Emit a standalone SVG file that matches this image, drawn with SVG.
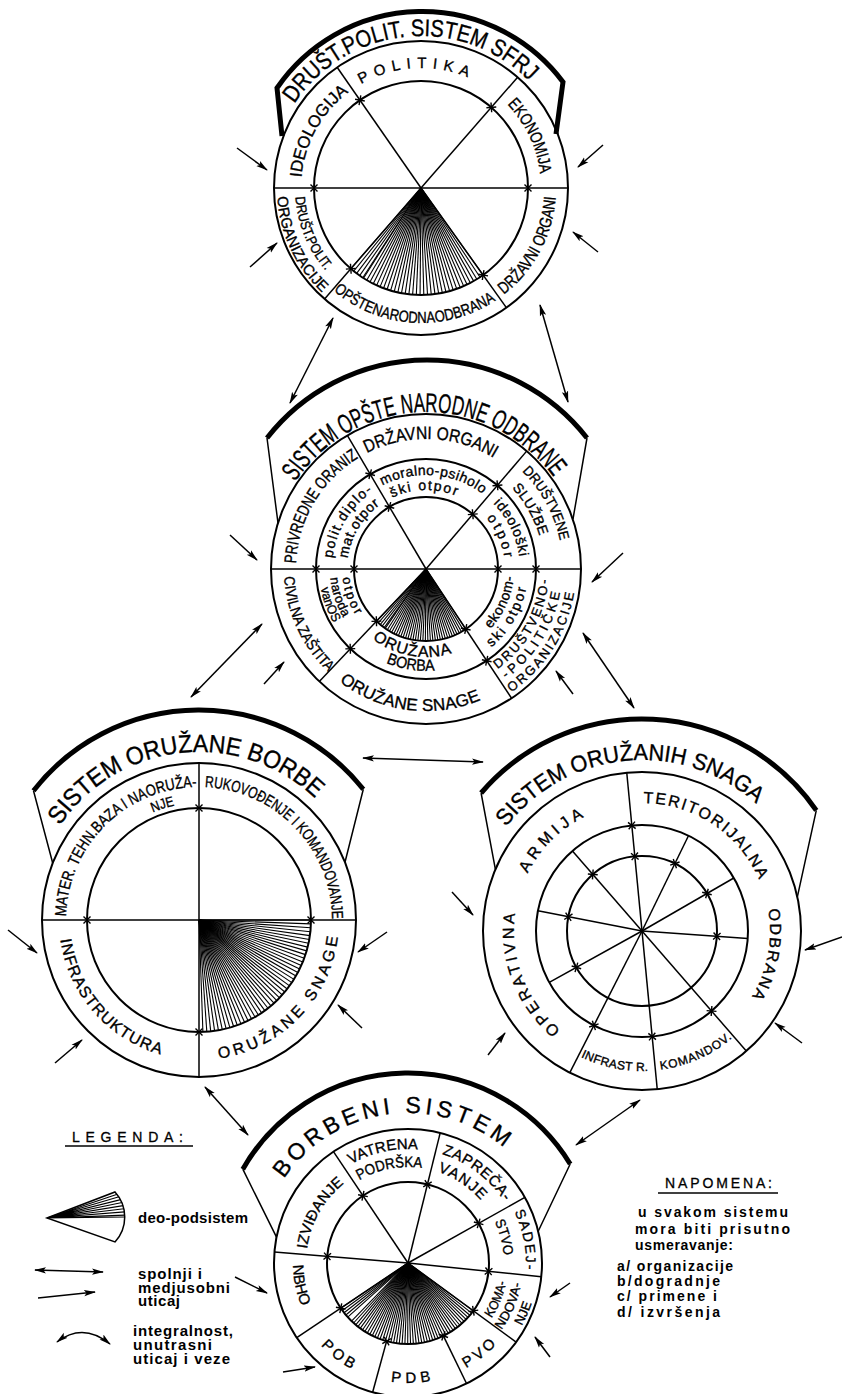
<svg xmlns="http://www.w3.org/2000/svg" width="842" height="1394" viewBox="0 0 842 1394">
<style>
.c{fill:none;stroke:#000;stroke-width:2}
.s{stroke:#000;stroke-width:1.5;fill:none}
.bn{fill:none;stroke:#000;stroke-width:5}
.rl{stroke:#000;stroke-width:1.1;vector-effect:non-scaling-stroke}
.t{font-family:"Liberation Sans",Arial,sans-serif;fill:#000;stroke:#000;stroke-width:0.35;text-anchor:middle}
.lg{font-family:"Liberation Sans",Arial,sans-serif;fill:#000;font-weight:bold}
.lh{font-family:"Liberation Sans",Arial,sans-serif;fill:#000;stroke:#000;stroke-width:0.3}
.ar{fill:none;stroke:#000;stroke-width:1.5;marker-end:url(#ah)}
.ar2{fill:none;stroke:#000;stroke-width:1.5;marker-start:url(#ah);marker-end:url(#ah)}
</style>
<defs>
<marker id="ah" viewBox="0 0 12 8" refX="11" refY="4" markerWidth="12" markerHeight="8" markerUnits="userSpaceOnUse" orient="auto-start-reverse"><path d="M0,0.8 L12,4 L0,7.2 L2.5,4 Z" fill="#000"/></marker>
<g id="r5"><line class="rl" x2="1" y2="0"/><line class="rl" x2=".99939" y2=".0349"/><line class="rl" x2=".99756" y2=".06976"/><line class="rl" x2=".99452" y2=".10453"/><line class="rl" x2=".99027" y2=".13917"/></g>
<path id="tk" d="M-3.5,-3.5L3.5,3.5M-3.5,3.5L3.5,-3.5" stroke="#000" stroke-width="1.4" fill="none"/>
<path id="c1u120" d="M421,308A120,120 0 1 1 421,68A120,120 0 1 1 421,308"/>
<path id="c1u152" d="M421,340A152,152 0 1 1 421,36A152,152 0 1 1 421,340"/>
<path id="c1l135" d="M421,53A135,135 0 1 0 421,323A135,135 0 1 0 421,53"/>
<path id="c1l144" d="M421,44A144,144 0 1 0 421,332A144,144 0 1 0 421,44"/>
<path id="c1l126" d="M421,62A126,126 0 1 0 421,314A126,126 0 1 0 421,62"/>
<path id="c2u130" d="M426,699A130,130 0 1 1 426,439A130,130 0 1 1 426,699"/>
<path id="c2u137" d="M426,706A137,137 0 1 1 426,432A137,137 0 1 1 426,706"/>
<path id="c2u118" d="M426,687A118,118 0 1 1 426,451A118,118 0 1 1 426,687"/>
<path id="c2u94" d="M426,663A94,94 0 1 1 426,475A94,94 0 1 1 426,663"/>
<path id="c2u79" d="M426,648A79,79 0 1 1 426,490A79,79 0 1 1 426,648"/>
<path id="c2u157" d="M426,726A157,157 0 1 1 426,412A157,157 0 1 1 426,726"/>
<path id="c2l123" d="M426,446A123,123 0 1 0 426,692A123,123 0 1 0 426,446"/>
<path id="c2l136" d="M426,433A136,136 0 1 0 426,705A136,136 0 1 0 426,433"/>
<path id="c2l150" d="M426,419A150,150 0 1 0 426,719A150,150 0 1 0 426,419"/>
<path id="c2l142" d="M426,427A142,142 0 1 0 426,711A142,142 0 1 0 426,427"/>
<path id="c2l88" d="M426,481A88,88 0 1 0 426,657A88,88 0 1 0 426,481"/>
<path id="c2l102" d="M426,467A102,102 0 1 0 426,671A102,102 0 1 0 426,467"/>
<path id="c2l84" d="M426,485A84,84 0 1 0 426,653A84,84 0 1 0 426,485"/>
<path id="c2l96" d="M426,473A96,96 0 1 0 426,665A96,96 0 1 0 426,473"/>
<path id="c2l107" d="M426,462A107,107 0 1 0 426,676A107,107 0 1 0 426,462"/>
<path id="c3u133" d="M199,1053A133,133 0 1 1 199,787A133,133 0 1 1 199,1053"/>
<path id="c3u117" d="M199,1037A117,117 0 1 1 199,803A117,117 0 1 1 199,1037"/>
<path id="c3u168" d="M199,1088A168,168 0 1 1 199,752A168,168 0 1 1 199,1088"/>
<path id="c3l140" d="M199,780A140,140 0 1 0 199,1060A140,140 0 1 0 199,780"/>
<path id="c4u128" d="M642,1059A128,128 0 1 1 642,803A128,128 0 1 1 642,1059"/>
<path id="c4u171" d="M642,1102A171,171 0 1 1 642,760A171,171 0 1 1 642,1102"/>
<path id="c4l140" d="M642,791A140,140 0 1 0 642,1071A140,140 0 1 0 642,791"/>
<path id="c5u102" d="M408,1365A102,102 0 1 1 408,1161A102,102 0 1 1 408,1365"/>
<path id="c5u114" d="M408,1377A114,114 0 1 1 408,1149A114,114 0 1 1 408,1377"/>
<path id="c5u96" d="M408,1359A96,96 0 1 1 408,1167A96,96 0 1 1 408,1359"/>
<path id="c5u118" d="M408,1381A118,118 0 1 1 408,1145A118,118 0 1 1 408,1381"/>
<path id="c5u150" d="M408,1413A150,150 0 1 1 408,1113A150,150 0 1 1 408,1413"/>
<path id="c5l100" d="M408,1163A100,100 0 1 0 408,1363A100,100 0 1 0 408,1163"/>
<path id="c5l115" d="M408,1148A115,115 0 1 0 408,1378A115,115 0 1 0 408,1148"/>
<path id="c5l130" d="M408,1133A130,130 0 1 0 408,1393A130,130 0 1 0 408,1133"/>
<path id="c5l120" d="M408,1143A120,120 0 1 0 408,1383A120,120 0 1 0 408,1143"/>
</defs>
<rect width="842" height="1394" fill="#fff"/>

<g id="n-drust-polit-sistem">
<circle cx="421" cy="188" r="147" class="c"/>
<circle cx="421" cy="188" r="107" class="c"/>
<path class="bn" d="M282,136 L277,88 A176,176 0 0 1 563,82 L556,134"/>
<g transform="translate(421 188)">
<line class="s" x1="-147" x2="147"/>
<line class="s" x2="147" transform="rotate(-124.8)"/>
<line class="s" x2="147" transform="rotate(-48.9)"/>
<line class="s" x2="147" transform="rotate(54.5)"/>
<line class="s" x2="147" transform="rotate(131)"/>
<use href="#r5" transform="rotate(54.5) scale(107)"/><use href="#r5" transform="rotate(64.5) scale(107)"/><use href="#r5" transform="rotate(74.5) scale(107)"/><use href="#r5" transform="rotate(84.5) scale(107)"/><use href="#r5" transform="rotate(94.5) scale(107)"/><use href="#r5" transform="rotate(104.5) scale(107)"/><use href="#r5" transform="rotate(114.5) scale(107)"/><use href="#r5" transform="rotate(123) scale(107)"/>
<use href="#tk" transform="rotate(-124.8) translate(107 0)"/><use href="#tk" transform="rotate(-48.9) translate(107 0)"/><use href="#tk" transform="rotate(0) translate(107 0)"/><use href="#tk" transform="rotate(180) translate(107 0)"/><use href="#tk" transform="rotate(54.5) translate(107 0)"/><use href="#tk" transform="rotate(131) translate(107 0)"/>
</g>
<text class="t" font-size="24"><textPath href="#c1u152" startOffset="48.47%" textLength="270" lengthAdjust="spacingAndGlyphs">DRUŠT.POLIT. SISTEM SFRJ</textPath></text>
<text class="t" font-size="17"><textPath href="#c1u120" startOffset="33.06%" textLength="100.5" lengthAdjust="spacingAndGlyphs">IDEOLOGIJA</textPath></text>
<text class="t" font-size="15"><textPath href="#c1u120" startOffset="49.03%" textLength="110.6">POLITIKA</textPath></text>
<text class="t" font-size="17"><textPath href="#c1u120" startOffset="67.92%" textLength="78.1" lengthAdjust="spacingAndGlyphs">EKONOMIJA</textPath></text>
<text class="t" font-size="17"><textPath href="#c1l135" startOffset="67.22%" textLength="113.8" lengthAdjust="spacingAndGlyphs">DRŽAVNI ORGANI</textPath></text>
<text class="t" font-size="16"><textPath href="#c1l135" startOffset="49.06%" textLength="174.4" lengthAdjust="spacingAndGlyphs">OPŠTENARODNAODBRANA</textPath></text>
<text class="t" font-size="15"><textPath href="#c1l144" startOffset="31.97%" textLength="108.3" lengthAdjust="spacingAndGlyphs">ORGANIZACIJE</textPath></text>
<text class="t" font-size="14"><textPath href="#c1l126" startOffset="31.25%" textLength="81" lengthAdjust="spacingAndGlyphs">DRUŠT.POLIT.</textPath></text>
</g>

<g id="n-sistem-opstenarodne-odbrane">
<circle cx="426" cy="569" r="155" class="c"/>
<circle cx="426" cy="569" r="110" class="c"/>
<circle cx="426" cy="569" r="72" class="c"/>
<path class="bn" d="M267,438A203,203 0 0 1 587,438"/>
<path class="s" d="M267,438L278,523M587,438L573,519"/>
<g transform="translate(426 569)">
<line class="s" x1="-155" x2="155"/>
<line class="s" x2="155" transform="rotate(-120.5)"/>
<line class="s" x2="155" transform="rotate(-49.5)"/>
<line class="s" x2="155" transform="rotate(56.5)"/>
<line class="s" x2="155" transform="rotate(133.5)"/>
<use href="#r5" transform="rotate(56.5) scale(72)"/><use href="#r5" transform="rotate(66.5) scale(72)"/><use href="#r5" transform="rotate(76.5) scale(72)"/><use href="#r5" transform="rotate(86.5) scale(72)"/><use href="#r5" transform="rotate(96.5) scale(72)"/><use href="#r5" transform="rotate(106.5) scale(72)"/><use href="#r5" transform="rotate(116.5) scale(72)"/><use href="#r5" transform="rotate(125.5) scale(72)"/>
<use href="#tk" transform="rotate(-120.5) translate(72 0)"/><use href="#tk" transform="rotate(-49.5) translate(72 0)"/><use href="#tk" transform="rotate(0) translate(72 0)"/><use href="#tk" transform="rotate(180) translate(72 0)"/><use href="#tk" transform="rotate(56.5) translate(72 0)"/><use href="#tk" transform="rotate(133.5) translate(72 0)"/>
<use href="#tk" transform="rotate(-120.5) translate(110 0)"/><use href="#tk" transform="rotate(-49.5) translate(110 0)"/><use href="#tk" transform="rotate(0) translate(110 0)"/><use href="#tk" transform="rotate(180) translate(110 0)"/><use href="#tk" transform="rotate(56.5) translate(110 0)"/><use href="#tk" transform="rotate(133.5) translate(110 0)"/>
</g>
<text class="t" font-size="27"><textPath href="#c2u157" startOffset="49.72%" textLength="303" lengthAdjust="spacingAndGlyphs">SISTEM OPŠTE NARODNE ODBRANE</textPath></text>
<text class="t" font-size="17"><textPath href="#c2u130" startOffset="33.47%" textLength="127.5" lengthAdjust="spacingAndGlyphs">PRIVREDNE ORANIZ</textPath></text>
<text class="t" font-size="18"><textPath href="#c2u130" startOffset="50.61%" textLength="132.7" lengthAdjust="spacingAndGlyphs">DRŽAVNI ORGANI</textPath></text>
<text class="t" font-size="14"><textPath href="#c2u137" startOffset="67.03%" textLength="80.3" lengthAdjust="spacingAndGlyphs">DRUŠTVENE</textPath></text>
<text class="t" font-size="14"><textPath href="#c2u118" startOffset="66.72%" textLength="55.6">SLUŽBE</textPath></text>
<text class="t" font-size="13"><textPath href="#c2l123" startOffset="66.72%" textLength="106">DRUŠTVENO-</textPath></text>
<text class="t" font-size="13"><textPath href="#c2l136" startOffset="66.11%" textLength="104.4">-POLITIČKE</textPath></text>
<text class="t" font-size="13"><textPath href="#c2l150" startOffset="66.03%" textLength="121">ORGANIZACIJE</textPath></text>
<text class="t" font-size="17"><textPath href="#c2l142" startOffset="47.94%" textLength="149.4">ORUŽANE SNAGE</textPath></text>
<text class="t" font-size="15"><textPath href="#c2l142" startOffset="31.89%" textLength="107.3" lengthAdjust="spacingAndGlyphs">CIVILNA ZAŠTITA</textPath></text>
<text class="t" font-size="14"><textPath href="#c2u94" startOffset="33.6%" textLength="80">polit.diplo-</textPath></text>
<text class="t" font-size="14"><textPath href="#c2u94" startOffset="51.3%" textLength="106">moralno-psiholo</textPath></text>
<text class="t" font-size="14"><textPath href="#c2u94" startOffset="67.8%" textLength="60">ideološki</textPath></text>
<text class="t" font-size="14"><textPath href="#c2u79" startOffset="33.58%" textLength="64">mat.otpor</textPath></text>
<text class="t" font-size="14"><textPath href="#c2u79" startOffset="49.56%" textLength="66">ški otpor</textPath></text>
<text class="t" font-size="14"><textPath href="#c2u79" startOffset="68.28%" textLength="44">otpor</textPath></text>
<text class="t" font-size="14"><textPath href="#c2l88" startOffset="68.31%" textLength="58">ekonom-</textPath></text>
<text class="t" font-size="16"><textPath href="#c2l88" startOffset="47.17%" textLength="84">ORUŽANA</textPath></text>
<text class="t" font-size="14"><textPath href="#c2l102" startOffset="66.5%" textLength="70">ski otpor</textPath></text>
<text class="t" font-size="16"><textPath href="#c2l102" startOffset="47.5%" textLength="50" lengthAdjust="spacingAndGlyphs">BORBA</textPath></text>
<text class="t" font-size="13"><textPath href="#c2l84" startOffset="30.47%" textLength="40">otpor</textPath></text>
<text class="t" font-size="13"><textPath href="#c2l96" startOffset="29.97%" textLength="41.9">naroda</textPath></text>
<text class="t" font-size="13"><textPath href="#c2l107" startOffset="30.64%" textLength="37" lengthAdjust="spacingAndGlyphs">vanOS</textPath></text>
</g>

<g id="n-sistem-oruzane-borbe">
<circle cx="199" cy="920" r="157" class="c"/>
<circle cx="199" cy="920" r="112" class="c"/>
<path class="bn" d="M33.5,790.7A210,210 0 0 1 363.3,789.3"/>
<path class="s" d="M33.5,790.7L52.7,863M363.3,789.3L345,862.2"/>
<g transform="translate(199 920)">
<line class="s" x1="-157" x2="157"/>
<line class="s" x1="-157" x2="157" transform="rotate(90)"/>
<use href="#r5" transform="rotate(0) scale(112)"/><use href="#r5" transform="rotate(10) scale(112)"/><use href="#r5" transform="rotate(20) scale(112)"/><use href="#r5" transform="rotate(30) scale(112)"/><use href="#r5" transform="rotate(40) scale(112)"/><use href="#r5" transform="rotate(50) scale(112)"/><use href="#r5" transform="rotate(60) scale(112)"/><use href="#r5" transform="rotate(70) scale(112)"/><use href="#r5" transform="rotate(80) scale(112)"/>
<use href="#tk" transform="rotate(0) translate(112 0)"/><use href="#tk" transform="rotate(90) translate(112 0)"/><use href="#tk" transform="rotate(180) translate(112 0)"/><use href="#tk" transform="rotate(270) translate(112 0)"/>
</g>
<text class="t" font-size="25"><textPath href="#c3u168" startOffset="48.31%" textLength="292" lengthAdjust="spacingAndGlyphs">SISTEM ORUŽANE BORBE</textPath></text>
<text class="t" font-size="16"><textPath href="#c3u133" startOffset="37.56%" textLength="203" lengthAdjust="spacingAndGlyphs">MATER. TEHN.BAZA I NAORUŽA-</textPath></text>
<text class="t" font-size="14"><textPath href="#c3u117" startOffset="45.11%" textLength="23" lengthAdjust="spacingAndGlyphs">NJE</textPath></text>
<text class="t" font-size="16"><textPath href="#c3u133" startOffset="62.78%" textLength="202" lengthAdjust="spacingAndGlyphs">RUKOVOĐENJE I KOMANDOVANJE</textPath></text>
<text class="t" font-size="16"><textPath href="#c3l140" startOffset="36.39%" textLength="161">INFRASTRUKTURA</textPath></text>
<text class="t" font-size="16"><textPath href="#c3l140" startOffset="62.67%" textLength="182.8">ORUŽANE SNAGE</textPath></text>
</g>

<g id="n-sistem-oruzanih-snaga">
<circle cx="642" cy="931" r="159" class="c"/>
<circle cx="642" cy="931" r="106" class="c"/>
<circle cx="642" cy="931" r="75" class="c"/>
<path class="bn" d="M481.1,793A212,212 0 0 1 816.3,810.3"/>
<path class="s" d="M481.1,793L495.4,869.4M816.3,810.3L797.3,897.1"/>
<g transform="translate(642 931)">
<line class="s" x1="-159" x2="159" transform="rotate(-95.5)"/>
<line class="s" x2="159" transform="rotate(49)"/>
<line class="s" x2="159" transform="rotate(117)"/>
<line class="s" x2="106" transform="rotate(-64)"/>
<line class="s" x2="106" transform="rotate(-30)"/>
<line class="s" x2="106" transform="rotate(4)"/>
<line class="s" x2="106" transform="rotate(151)"/>
<line class="s" x2="106" transform="rotate(191)"/>
<line class="s" x2="106" transform="rotate(229)"/>
<use href="#tk" transform="rotate(-95.5) translate(75 0)"/><use href="#tk" transform="rotate(-64) translate(75 0)"/><use href="#tk" transform="rotate(-30) translate(75 0)"/><use href="#tk" transform="rotate(4) translate(75 0)"/><use href="#tk" transform="rotate(151) translate(75 0)"/><use href="#tk" transform="rotate(191) translate(75 0)"/><use href="#tk" transform="rotate(229) translate(75 0)"/>
<use href="#tk" transform="rotate(-95.5) translate(106 0)"/><use href="#tk" transform="rotate(49) translate(106 0)"/><use href="#tk" transform="rotate(84.5) translate(106 0)"/><use href="#tk" transform="rotate(117) translate(106 0)"/>
</g>
<text class="t" font-size="23"><textPath href="#c4u171" startOffset="48.53%" textLength="282" lengthAdjust="spacingAndGlyphs">SISTEM ORUŽANIH SNAGA</textPath></text>
<text class="t" font-size="16"><textPath href="#c4u128" startOffset="37.44%" textLength="81.1">ARMIJA</textPath></text>
<text class="t" font-size="16"><textPath href="#c4u128" startOffset="19.06%" textLength="130.2">OPERATIVNA</textPath></text>
<text class="t" font-size="16"><textPath href="#c4u128" startOffset="59.28%" textLength="146.8">TERITORIJALNA</textPath></text>
<text class="t" font-size="16"><textPath href="#c4u128" startOffset="77.92%" textLength="90.9">ODBRANA</textPath></text>
<text class="t" font-size="12"><textPath href="#c4l140" startOffset="46.75%" textLength="69.6">INFRAST R.</textPath></text>
<text class="t" font-size="12"><textPath href="#c4l140" startOffset="56.61%" textLength="79.2">KOMANDOV.</textPath></text>
</g>

<g id="n-borbeni-sistem">
<circle cx="408" cy="1263" r="134" class="c"/>
<circle cx="408" cy="1263" r="81" class="c"/>
<path class="bn" d="M242.8,1169.2A190,190 0 0 1 570.2,1164"/>
<path class="s" d="M242.8,1169.2L276.5,1237.2M570.2,1164L538.2,1231.3"/>
<g transform="translate(408 1263)">
<line class="s" x2="134" transform="rotate(-123.8)"/>
<line class="s" x2="134" transform="rotate(-76.1)"/>
<line class="s" x2="134" transform="rotate(-29.3)"/>
<line class="s" x2="134" transform="rotate(5.9)"/>
<line class="s" x2="134" transform="rotate(184.7)"/>
<line class="s" x2="134" transform="rotate(36.2)"/>
<line class="s" x2="134" transform="rotate(146.1)"/>
<line class="s" x1="81" x2="134" transform="rotate(64.1)"/>
<line class="s" x1="81" x2="134" transform="rotate(105.3)"/>
<use href="#r5" transform="rotate(36.2) scale(81)"/><use href="#r5" transform="rotate(46.2) scale(81)"/><use href="#r5" transform="rotate(56.2) scale(81)"/><use href="#r5" transform="rotate(66.2) scale(81)"/><use href="#r5" transform="rotate(76.2) scale(81)"/><use href="#r5" transform="rotate(86.2) scale(81)"/><use href="#r5" transform="rotate(96.2) scale(81)"/><use href="#r5" transform="rotate(106.2) scale(81)"/><use href="#r5" transform="rotate(116.2) scale(81)"/><use href="#r5" transform="rotate(126.2) scale(81)"/><use href="#r5" transform="rotate(138.1) scale(81)"/>
<use href="#tk" transform="rotate(-123.8) translate(81 0)"/><use href="#tk" transform="rotate(-76.1) translate(81 0)"/><use href="#tk" transform="rotate(-29.3) translate(81 0)"/><use href="#tk" transform="rotate(5.9) translate(81 0)"/><use href="#tk" transform="rotate(184.7) translate(81 0)"/><use href="#tk" transform="rotate(146.1) translate(81 0)"/><use href="#tk" transform="rotate(36.2) translate(81 0)"/><use href="#tk" transform="rotate(105.3) translate(81 0)"/><use href="#tk" transform="rotate(64.1) translate(81 0)"/>
</g>
<text class="t" font-size="23"><textPath href="#c5u150" startOffset="47.75%" textLength="250">BORBENI SISTEM</textPath></text>
<text class="t" font-size="15"><textPath href="#c5u102" startOffset="33.22%" textLength="77.1">IZVIĐANJE</textPath></text>
<text class="t" font-size="15"><textPath href="#c5u114" startOffset="46.53%" textLength="69.4">VATRENA</textPath></text>
<text class="t" font-size="15"><textPath href="#c5u96" startOffset="46.92%" textLength="65.3" lengthAdjust="spacingAndGlyphs">PODRŠKA</textPath></text>
<text class="t" font-size="15"><textPath href="#c5u114" startOffset="60.36%" textLength="79.4">ZAPREČA-</textPath></text>
<text class="t" font-size="15"><textPath href="#c5u96" startOffset="59.36%" textLength="52.3">VANJE</textPath></text>
<text class="t" font-size="14"><textPath href="#c5u118" startOffset="71.86%" textLength="59.3">SADEJ-</textPath></text>
<text class="t" font-size="14"><textPath href="#c5u96" startOffset="70.83%" textLength="35.2" lengthAdjust="spacingAndGlyphs">STVO</textPath></text>
<text class="t" font-size="13"><textPath href="#c5l100" startOffset="68.81%" textLength="39.1" lengthAdjust="spacingAndGlyphs">KOMA-</textPath></text>
<text class="t" font-size="13"><textPath href="#c5l115" startOffset="68.61%" textLength="50.8">NDOVA-</textPath></text>
<text class="t" font-size="13"><textPath href="#c5l130" startOffset="68.47%" textLength="24.7">NJE</textPath></text>
<text class="t" font-size="15"><textPath href="#c5l120" startOffset="60.58%" textLength="38.5">PVO</textPath></text>
<text class="t" font-size="15"><textPath href="#c5l120" startOffset="50.39%" textLength="40.3">PDB</textPath></text>
<text class="t" font-size="15"><textPath href="#c5l120" startOffset="39.64%" textLength="38.8">POB</textPath></text>
<text class="t" font-size="15"><textPath href="#c5l115" startOffset="28.22%" textLength="42.3">NBHO</textPath></text>
</g>

<g id="connectors">
<line class="ar" x1="237" y1="148" x2="267" y2="170"/>
<line class="ar" x1="250" y1="267" x2="277" y2="243"/>
<line class="ar" x1="603" y1="145" x2="578" y2="167"/>
<line class="ar" x1="598" y1="252" x2="573" y2="232"/>
<line class="ar2" x1="333" y1="318" x2="290" y2="403"/>
<line class="ar2" x1="540" y1="305" x2="568" y2="402"/>
<line class="ar" x1="230" y1="535" x2="257" y2="560"/>
<line class="ar" x1="264" y1="684" x2="284" y2="662"/>
<line class="ar" x1="623" y1="553" x2="592" y2="582"/>
<line class="ar" x1="573" y1="694" x2="556" y2="671"/>
<line class="ar2" x1="262" y1="624" x2="191" y2="697"/>
<line class="ar2" x1="583" y1="633" x2="634" y2="708"/>
<line class="ar2" x1="363" y1="758" x2="483" y2="762"/>
<line class="ar" x1="8" y1="930" x2="37" y2="953"/>
<line class="ar" x1="55" y1="1063" x2="82" y2="1040"/>
<line class="ar" x1="387" y1="932" x2="358" y2="952"/>
<line class="ar" x1="362" y1="1028" x2="338" y2="1005"/>
<line class="ar" x1="452" y1="892" x2="473" y2="915"/>
<line class="ar" x1="842" y1="937" x2="805" y2="950"/>
<line class="ar" x1="802" y1="1043" x2="775" y2="1023"/>
<line class="ar" x1="488" y1="1055" x2="505" y2="1033"/>
<line class="ar2" x1="205" y1="1087" x2="248" y2="1135"/>
<line class="ar2" x1="576" y1="1145" x2="640" y2="1100"/>
<line class="ar" x1="235" y1="1277" x2="267" y2="1293"/>
<line class="ar" x1="283" y1="1372" x2="315" y2="1367"/>
<line class="ar" x1="570" y1="1283" x2="550" y2="1297"/>
<line class="ar" x1="550" y1="1357" x2="535" y2="1337"/>
</g>

<g id="legend">
<text class="lh" x="72" y="1142" font-size="14" textLength="111">LEGENDA:</text>
<line x1="65" y1="1146" x2="193" y2="1146" stroke="#000" stroke-width="1.5"/>
<path d="M47,1218 L115,1192 A37,37 0 0 1 115,1242 Z" fill="none" stroke="#000" stroke-width="1.5"/>
<path d="M47,1218L117.2,1194.2M47,1218L119,1196.8M47,1218L120.7,1199.6M47,1218L122.1,1202.5M47,1218L123.2,1205.6M47,1218L124,1208.7M47,1218L124.6,1211.9M47,1218L125,1215.1M47,1218L125,1217" stroke="#000" stroke-width="1.1" fill="none"/>
<text class="lg" x="138" y="1223" font-size="15" textLength="110">deo-podsistem</text>
<line class="ar2" x1="35" y1="1270" x2="103" y2="1272"/>
<line class="ar" x1="38" y1="1298" x2="95" y2="1292"/>
<text class="lg" x="138" y="1279" font-size="15" textLength="64">spolnji i</text>
<text class="lg" x="138" y="1293" font-size="15" textLength="92">medjusobni</text>
<text class="lg" x="138" y="1306" font-size="15" textLength="42">uticaj</text>
<path class="ar2" d="M57,1342 Q83,1322 110,1344"/>
<text class="lg" x="133" y="1336" font-size="15" textLength="100">integralnost,</text>
<text class="lg" x="133" y="1350" font-size="15" textLength="79">unutrasni</text>
<text class="lg" x="133" y="1364" font-size="15" textLength="97">uticaj i veze</text>
</g>

<g id="napomena">
<text class="lh" x="665" y="1188" font-size="14" textLength="107">NAPOMENA:</text>
<line x1="658" y1="1193" x2="778" y2="1193" stroke="#000" stroke-width="1.5"/>
<text class="lg" x="638" y="1217" font-size="14" textLength="150">u svakom sistemu</text>
<text class="lg" x="635" y="1234" font-size="14" textLength="155">mora biti prisutno</text>
<text class="lg" x="635" y="1250" font-size="14" textLength="98">usmeravanje:</text>
<text class="lg" x="617" y="1271" font-size="14" textLength="116">a/ organizacije</text>
<text class="lg" x="617" y="1286" font-size="14" textLength="103">b/dogradnje</text>
<text class="lg" x="617" y="1301" font-size="14" textLength="100">c/ primene i</text>
<text class="lg" x="617" y="1317" font-size="14" textLength="103">d/ izvršenja</text>
</g>
</svg>
